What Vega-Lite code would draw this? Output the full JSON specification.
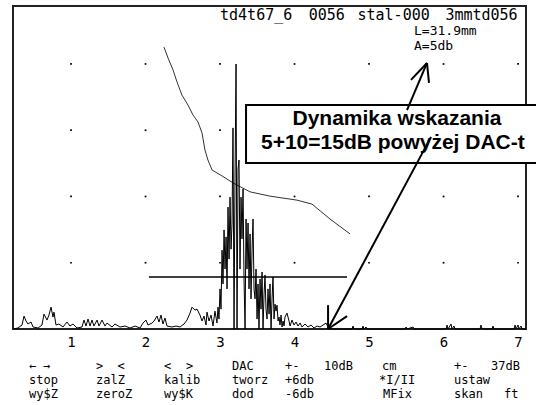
{
  "$schema": "https://vega.github.io/schema/vega-lite/v6.json",
  "width": 513,
  "height": 323,
  "autosize": {"type": "none"},
  "padding": {"left": 13, "top": 6, "right": 10, "bottom": 76},
  "background": "white",
  "config": {"view": {"stroke": null}},
  "datasets": {
    "dots": [
      {"x":1,"y":20},{"x":1,"y":40},{"x":1,"y":60},{"x":1,"y":80},
      {"x":2,"y":20},{"x":2,"y":40},{"x":2,"y":60},{"x":2,"y":80},
      {"x":3,"y":20},{"x":3,"y":40},{"x":3,"y":60},{"x":3,"y":80},
      {"x":4,"y":20},{"x":4,"y":40},{"x":4,"y":60},{"x":4,"y":80},
      {"x":5,"y":20},{"x":5,"y":40},{"x":5,"y":60},{"x":5,"y":80},
      {"x":6,"y":20},{"x":6,"y":40},{"x":6,"y":60},{"x":6,"y":80},
      {"x":7,"y":20},{"x":7,"y":40},{"x":7,"y":60},{"x":7,"y":80}
    ],
    "frame": [{"x":0.221,"x2":7.107,"y":0,"y2":97.5}],
    "dac": [
      {"x":2.248,"y":85.1},{"x":2.302,"y":81.8},{"x":2.369,"y":78.2},{"x":2.422,"y":74.6},
      {"x":2.489,"y":70.6},{"x":2.570,"y":67.6},{"x":2.637,"y":64.6},{"x":2.704,"y":62.5},
      {"x":2.758,"y":59.2},{"x":2.798,"y":54.0},{"x":2.838,"y":51.0},{"x":2.893,"y":48.0},
      {"x":3.027,"y":46.2},{"x":3.174,"y":44.1},{"x":3.403,"y":41.4},{"x":3.671,"y":40.1},
      {"x":4.033,"y":38.9},{"x":4.234,"y":37.7},{"x":4.476,"y":33.2},{"x":4.745,"y":28.7}
    ],
    "gate": [{"x":2.046,"x2":4.704,"y":15.7}],
    "echo": [
      {"x":0.221,"y":0},{"x":0.288,"y":0.3},{"x":0.342,"y":1.2},{"x":0.369,"y":3.9},{"x":0.396,"y":2.4},
      {"x":0.422,"y":1.5},{"x":0.463,"y":2.1},{"x":0.490,"y":0.6},{"x":0.557,"y":0.3},{"x":0.610,"y":1.2},
      {"x":0.637,"y":4.5},{"x":0.677,"y":2.7},{"x":0.704,"y":4.2},{"x":0.731,"y":6.6},{"x":0.758,"y":3.6},
      {"x":0.771,"y":5.1},{"x":0.798,"y":1.2},{"x":0.838,"y":1.5},{"x":0.892,"y":0.6},{"x":0.946,"y":2.1},
      {"x":0.986,"y":0.9},{"x":1.026,"y":1.5},{"x":1.080,"y":0.3},{"x":1.147,"y":0.6},{"x":1.174,"y":2.7},
      {"x":1.201,"y":0.9},{"x":1.228,"y":3.0},{"x":1.255,"y":0.9},{"x":1.281,"y":2.7},{"x":1.308,"y":0.9},
      {"x":1.349,"y":2.7},{"x":1.375,"y":0.9},{"x":1.416,"y":2.7},{"x":1.456,"y":0.9},{"x":1.483,"y":1.8},
      {"x":1.550,"y":0.6},{"x":1.590,"y":1.5},{"x":1.657,"y":0.6},{"x":1.724,"y":0.9},{"x":1.792,"y":0.3},
      {"x":1.859,"y":0.9},{"x":1.926,"y":0.3},{"x":1.966,"y":1.8},{"x":2.006,"y":2.7},{"x":2.033,"y":1.2},
      {"x":2.087,"y":1.8},{"x":2.114,"y":2.4},{"x":2.154,"y":3.9},{"x":2.181,"y":2.1},{"x":2.208,"y":4.2},
      {"x":2.234,"y":1.5},{"x":2.261,"y":3.3},{"x":2.288,"y":0.9},{"x":2.355,"y":0.6},{"x":2.409,"y":0.9},
      {"x":2.463,"y":0.6},{"x":2.516,"y":1.5},{"x":2.557,"y":2.7},{"x":2.597,"y":4.8},{"x":2.624,"y":6.6},
      {"x":2.664,"y":5.7},{"x":2.691,"y":6.0},{"x":2.731,"y":4.2},{"x":2.758,"y":2.4},{"x":2.785,"y":3.9},
      {"x":2.812,"y":1.2},{"x":2.825,"y":5.1},{"x":2.852,"y":2.4},{"x":2.879,"y":4.2},{"x":2.906,"y":0.9},
      {"x":2.932,"y":5.4},{"x":2.959,"y":1.8},
      {"x":2.973,"y":6.6},{"x":2.986,"y":3.0},{"x":3.000,"y":12.1},{"x":3.013,"y":6.0},{"x":3.027,"y":23.8},
      {"x":3.040,"y":13.6},{"x":3.054,"y":29.9},{"x":3.067,"y":18.1},{"x":3.081,"y":27.8},{"x":3.094,"y":12.1},
      {"x":3.107,"y":36.8},{"x":3.121,"y":21.1},{"x":3.134,"y":39.8},{"x":3.148,"y":24.1},{"x":3.161,"y":32.0},
      {"x":3.174,"y":60.7},{"x":3.188,"y":0},{"x":3.201,"y":45.3},{"x":3.215,"y":80.0},{"x":3.228,"y":0},
      {"x":3.242,"y":48.3},{"x":3.255,"y":51.0},{"x":3.268,"y":18.1},{"x":3.282,"y":39.8},{"x":3.295,"y":27.2},
      {"x":3.309,"y":42.3},{"x":3.322,"y":15.1},{"x":3.336,"y":0},{"x":3.349,"y":33.2},{"x":3.362,"y":18.1},
      {"x":3.376,"y":32.0},{"x":3.389,"y":12.1},{"x":3.403,"y":28.7},{"x":3.416,"y":9.1},{"x":3.430,"y":24.1},
      {"x":3.443,"y":33.2},{"x":3.456,"y":12.1},{"x":3.470,"y":9.1},{"x":3.483,"y":18.1},{"x":3.497,"y":3.0},
      {"x":3.510,"y":13.6},{"x":3.523,"y":0},{"x":3.537,"y":15.1},{"x":3.550,"y":6.0},{"x":3.564,"y":17.2},
      {"x":3.577,"y":0},{"x":3.591,"y":10.6},{"x":3.604,"y":16.3},{"x":3.617,"y":6.0},{"x":3.631,"y":3.0},
      {"x":3.644,"y":12.1},{"x":3.658,"y":4.5},{"x":3.671,"y":13.6},{"x":3.685,"y":0},{"x":3.698,"y":9.1},
      {"x":3.711,"y":15.7},{"x":3.725,"y":3.0},{"x":3.738,"y":7.5},{"x":3.752,"y":5.4},{"x":3.765,"y":7.2},
      {"x":3.779,"y":2.4},{"x":3.792,"y":3.6},{"x":3.805,"y":1.2},{"x":3.819,"y":4.2},{"x":3.832,"y":0.6},
      {"x":3.846,"y":2.4},{"x":3.859,"y":0.9},{"x":3.872,"y":3.6},{"x":3.899,"y":4.8},{"x":3.926,"y":2.4},
      {"x":3.940,"y":0.9},{"x":3.966,"y":2.7},{"x":3.993,"y":1.2},{"x":4.020,"y":2.1},{"x":4.047,"y":0.9},
      {"x":4.074,"y":1.8},{"x":4.101,"y":0.6},{"x":4.141,"y":1.5},{"x":4.181,"y":0.6},{"x":4.221,"y":1.2},
      {"x":4.262,"y":0.3},{"x":4.302,"y":0.9},{"x":4.342,"y":0.6},{"x":4.383,"y":1.2},{"x":4.423,"y":1.8},
      {"x":4.450,"y":0.6},{"x":4.490,"y":0},{"x":4.611,"y":0},{"x":4.772,"y":0},{"x":4.785,"y":0.9},
      {"x":4.799,"y":0},{"x":4.906,"y":0},{"x":4.919,"y":0.9},{"x":4.933,"y":0},{"x":4.960,"y":0.6},
      {"x":4.973,"y":0},{"x":5.483,"y":0},{"x":5.497,"y":0.6},{"x":5.510,"y":0},{"x":5.591,"y":0.6},
      {"x":5.604,"y":0},{"x":6.034,"y":0},{"x":6.047,"y":1.2},{"x":6.060,"y":0},{"x":6.101,"y":1.5},
      {"x":6.114,"y":0},{"x":6.140,"y":0.9},{"x":6.154,"y":0},{"x":6.490,"y":0},{"x":6.503,"y":1.2},
      {"x":6.517,"y":0},{"x":6.651,"y":0},{"x":6.664,"y":0.9},{"x":6.678,"y":0},{"x":6.946,"y":0},
      {"x":6.960,"y":1.2},{"x":6.973,"y":0},{"x":7.000,"y":1.2},{"x":7.013,"y":0},{"x":7.040,"y":0.9},
      {"x":7.054,"y":0},{"x":7.107,"y":0}
    ],
    "box": [{"x":3.349,"x2":7.362,"y":50.1,"y2":67.6}],
    "boxText": [
      {"x":5.375,"y":61.6,"t":"Dynamika wskazania"},
      {"x":5.320,"y":54.3,"t":"5+10=15dB powyżej DAC-t"}
    ],
    "arrows": [
      {"x":5.510,"y":66.1,"x2":5.778,"y2":80.3},
      {"x":5.778,"y":80.3,"x2":5.563,"y2":75.2},
      {"x":5.778,"y":80.3,"x2":5.805,"y2":74.3},
      {"x":5.832,"y":58.0,"x2":4.450,"y2":0},
      {"x":4.450,"y":0,"x2":4.450,"y2":7.2},
      {"x":4.450,"y":0,"x2":4.705,"y2":3.9}
    ],
    "head": [
      {"x":3.000,"y":94.8,"t":"td4t67_6"},
      {"x":4.190,"y":94.8,"t":"0056"},
      {"x":4.845,"y":94.8,"t":"stal-000"},
      {"x":6.025,"y":94.8,"t":"3mmtd056"}
    ],
    "head2": [
      {"x":5.604,"y":89.9,"t":"L=31.9mm"},
      {"x":5.604,"y":85.4,"t":"A=5db"}
    ],
    "menu": [
      {"x":0.436,"y":-11.2,"t":"←"},{"x":0.624,"y":-11.2,"t":"→"},
      {"x":1.335,"y":-11.2,"t":">"},{"x":1.624,"y":-11.2,"t":"<"},
      {"x":2.248,"y":-11.2,"t":"<"},{"x":2.543,"y":-11.2,"t":">"},
      {"x":3.161,"y":-11.2,"t":"DAC"},{"x":3.872,"y":-11.2,"t":"+-"},{"x":4.396,"y":-11.2,"t":"10dB"},
      {"x":5.174,"y":-11.2,"t":"cm"},{"x":6.140,"y":-11.2,"t":"+-"},{"x":6.637,"y":-11.2,"t":"37dB"},
      {"x":0.436,"y":-15.4,"t":"stop"},{"x":1.335,"y":-15.4,"t":"zalZ"},{"x":2.248,"y":-15.4,"t":"kalib"},
      {"x":3.161,"y":-15.4,"t":"tworz"},{"x":3.872,"y":-15.4,"t":"+6db"},{"x":5.134,"y":-15.4,"t":"*I/II"},
      {"x":6.140,"y":-15.4,"t":"ustaw"},
      {"x":0.436,"y":-19.6,"t":"wy$Z"},{"x":1.335,"y":-19.6,"t":"zeroZ"},{"x":2.248,"y":-19.6,"t":"wy$K"},
      {"x":3.161,"y":-19.6,"t":"dod"},{"x":3.872,"y":-19.6,"t":"-6db"},{"x":5.188,"y":-19.6,"t":"MFix"},
      {"x":6.140,"y":-19.6,"t":"skan"},{"x":6.812,"y":-19.6,"t":"ft"}
    ]
  },
  "encoding": {
    "x": {
      "field": "x", "type": "quantitative",
      "scale": {"domain": [0.221, 7.107], "nice": false, "zero": false},
      "axis": {
        "values": [1, 2, 3, 4, 5, 6, 7], "title": null, "domain": false, "ticks": false, "tickSize": 0,
        "grid": false, "labelFont": "DejaVu Sans Mono", "labelFontSize": 14, "labelColor": "black",
        "labelPadding": 13, "labelBaseline": "middle", "labelFlush": false, "labelOverlap": false
      }
    },
    "y": {
      "field": "y", "type": "quantitative",
      "scale": {"domain": [0, 97.5], "nice": false, "zero": false},
      "axis": null
    }
  },
  "layer": [
    {"data": {"name": "dots"}, "mark": {"type": "point", "shape": "square", "size": 3, "filled": true, "color": "black", "opacity": 1}},
    {"data": {"name": "frame"}, "mark": {"type": "rect", "fill": "transparent", "stroke": "#222", "strokeWidth": 2},
     "encoding": {"x2": {"field": "x2"}, "y2": {"field": "y2"}}},
    {"data": {"name": "dac"}, "mark": {"type": "line", "color": "#333", "strokeWidth": 1}, "encoding": {}},
    {"data": {"name": "gate"}, "mark": {"type": "rule", "color": "black", "strokeWidth": 1.5},
     "encoding": {"x2": {"field": "x2"}}},
    {"data": {"name": "echo"}, "mark": {"type": "line", "color": "black", "strokeWidth": 1}, "encoding": {}},
    {"data": {"name": "box"}, "mark": {"type": "rect", "fill": "white", "stroke": "black", "strokeWidth": 2, "clip": false},
     "encoding": {"x2": {"field": "x2"}, "y2": {"field": "y2"}}},
    {"data": {"name": "boxText"}, "mark": {"type": "text", "font": "Liberation Sans", "fontWeight": "bold", "fontSize": 21, "align": "center", "baseline": "alphabetic", "color": "black"},
     "encoding": {"text": {"field": "t"}}},
    {"data": {"name": "arrows"}, "mark": {"type": "rule", "color": "black", "strokeWidth": 2},
     "encoding": {"x2": {"field": "x2"}, "y2": {"field": "y2"}}},
    {"data": {"name": "head"}, "mark": {"type": "text", "font": "DejaVu Sans Mono", "fontSize": 15, "align": "left", "baseline": "middle", "color": "black"},
     "encoding": {"text": {"field": "t"}}},
    {"data": {"name": "head2"}, "mark": {"type": "text", "font": "DejaVu Sans Mono", "fontSize": 13, "align": "left", "baseline": "middle", "color": "black"},
     "encoding": {"text": {"field": "t"}}},
    {"data": {"name": "menu"}, "mark": {"type": "text", "font": "DejaVu Sans Mono", "fontSize": 12, "align": "left", "baseline": "middle", "color": "black"},
     "encoding": {"text": {"field": "t"}}}
  ]
}
